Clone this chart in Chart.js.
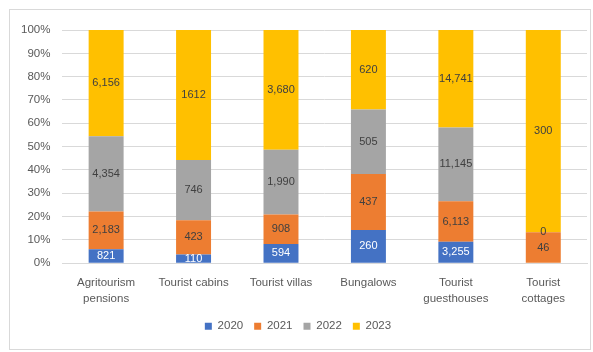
<!DOCTYPE html>
<html>
<head>
<meta charset="utf-8">
<script src="https://cdn.jsdelivr.net/npm/chart.js@4/dist/chart.umd.min.js"></script>
<style>
  html,body{margin:0;padding:0;background:#fff;}
  #wrap{position:absolute;left:9px;top:9px;width:582px;height:341px;border:1px solid #d9d9d9;box-sizing:border-box;}
  canvas{position:absolute;left:0;top:0;}
</style>
</head>
<body>
<div id="wrap"></div>
<canvas id="chart" width="593" height="352"></canvas>
<script>
// categories and counts per year
const categories = [["Agritourism","pensions"],"Tourist cabins","Tourist villas","Bungalows",["Tourist","guesthouses"],["Tourist","cottages"]];
const years = ["2020","2021","2022","2023"];
const v2020 = [821, 110, 594, 260, 3255, 0];
const v2021 = [2183, 423, 908, 437, 6113, 46];
const v2022 = [4354, 746, 1990, 505, 11145, 0];
const v2023 = [6156, 1612, 3680, 620, 14741, 300];
const useComma = [true, false, true, true, true, true];
const yTicks = [0,10,20,30,40,50,60,70,80,90,100];

const colors = ["#4472C4","#ED7D31","#A5A5A5","#FFC000"];
const labelColors = ["#ffffff","#404040","#404040","#404040"];
const raw = [v2020, v2021, v2022, v2023];
const totals = categories.map((c,i)=>raw.reduce((s,a)=>s+a[i],0));

const fmt = (v,i)=> useComma[i] ? v.toLocaleString("en-US") : String(v);

const valueLabels = {
  id:"valueLabels",
  afterDatasetsDraw(chart){
    const ctx = chart.ctx;
    ctx.save();
    ctx.font = "11px 'Liberation Sans Narrow', 'Liberation Sans', sans-serif";
    ctx.textAlign = "center";
    ctx.textBaseline = "middle";
    chart.data.datasets.forEach((ds,di)=>{
      chart.getDatasetMeta(di).data.forEach((bar,i)=>{
        const v = raw[di][i];
        if(v===0 && di===0) return;
        ctx.fillStyle = labelColors[di];
        const y = (bar.y + bar.base)/2;
        ctx.fillText(fmt(v,i), bar.x, y);
      });
    });
    ctx.restore();
  }
};

const font = {family:"'Liberation Sans Narrow', 'Liberation Sans', sans-serif", size:11.5, lineHeight:1.4};

chart = new Chart(document.getElementById("chart"),{
  type:"bar",
  data:{
    labels:categories,
    datasets:years.map((y,di)=>({
      label:y,
      data:raw[di].map((v,i)=>v/totals[i]*100),
      backgroundColor:colors[di],
      categoryPercentage:1,
      barPercentage:0.4
    }))
  },
  options:{
    responsive:false,
    animation:false,
    layout:{padding:{left:9,right:6,top:30,bottom:10}},
    plugins:{
      legend:{
        position:"bottom",
        labels:{boxWidth:7,boxHeight:7,color:"#595959",font:font,padding:11}
      },
      tooltip:{enabled:false}
    },
    scales:{
      x:{
        stacked:true,
        grid:{display:false},
        border:{color:"#d9d9d9"},
        ticks:{color:"#595959",font:font,maxRotation:0,autoSkip:false,padding:3}
      },
      y:{
        stacked:true,
        min:0,max:100,
        afterBuildTicks(ax){ ax.ticks = yTicks.map(v=>({value:v})); },
        grid:{color:"#d9d9d9",drawTicks:false},
        border:{display:false},
        ticks:{color:"#595959",font:font,padding:12,callback:v=>v+"%"}
      }
    }
  },
  plugins:[valueLabels]
});
</script>
</body>
</html>
